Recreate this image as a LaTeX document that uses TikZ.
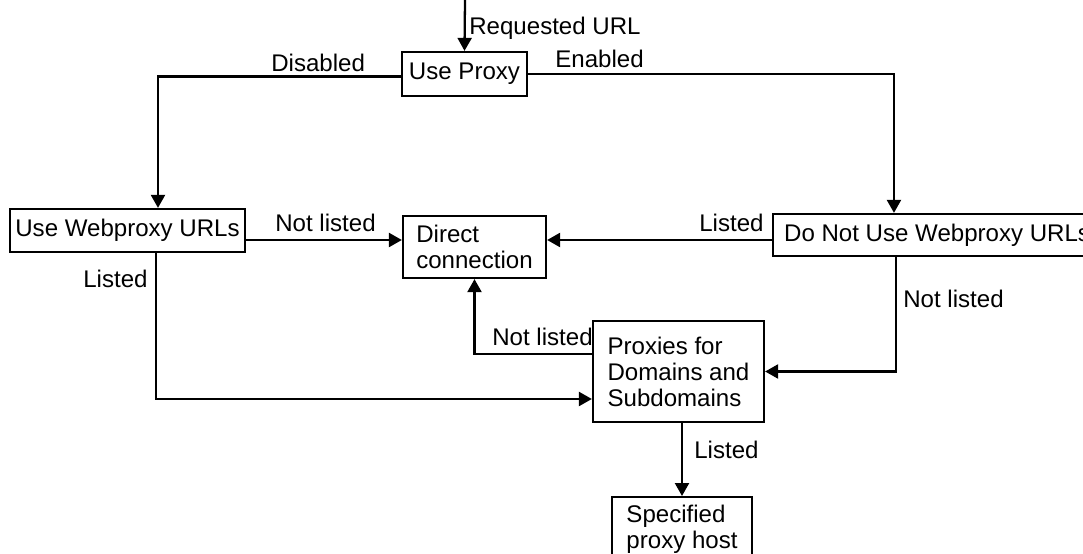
\documentclass[tikz,border=0pt]{standalone}
\usepackage{fontspec}
\setmainfont{Liberation Sans}
\usetikzlibrary{arrows.meta, positioning}

\tikzset{
  box/.style={draw=black, line width=1.3pt, inner sep=0pt, align=left},
  lbl/.style={anchor=base west, inner sep=0pt},
  flow/.style={->, line width=1.3pt}
}

\begin{document}
\begin{tikzpicture}[x=0.02cm, y=-0.02cm, >={Triangle[length=2.6mm, width=2.8mm]},
    font=\fontsize{13.7}{14.8}\selectfont]
    \useasboundingbox (0,0) rectangle (1083,554);
    \clip (0,0) rectangle (1083,554);

    % Boxes
    \node[box, minimum width=2.5cm, minimum height=0.88cm] (proxy) at (464.5,74) {Use Proxy};
    \node[box, minimum width=4.7cm, minimum height=0.86cm] (webp) at (127.5,230.5) {Use Webproxy URLs};
    \node[box, minimum width=2.86cm, minimum height=1.24cm] (direct) at (474.5,247) {Direct\\connection};
    \node[box, anchor=west, inner xsep=0.22cm, minimum height=0.84cm] (nouse) at (772,235) {Do Not Use Webproxy URLs};
    \node[box, minimum width=3.42cm, minimum height=2.02cm] (domains) at (678.5,371.5) {Proxies for\\Domains and\\Subdomains};
    \node[box, anchor=north, minimum width=2.8cm, inner ysep=0.16cm] (host) at (682,496) {Specified\\proxy host};

    % Incoming request
    \coordinate (start) at (465,0);
    \draw[flow] (start) -- (proxy.north);

    % Connectors
    \draw[flow] ([yshift=-0.05cm]proxy.west) -| ([xshift=0.61cm]webp.north);
    \draw[flow] (proxy.east) -| ([xshift=2.44cm]nouse.north west);

    \coordinate (wout) at ([yshift=-0.19cm]webp.east);
    \draw[flow] (wout) -- (wout -| direct.west);
    \coordinate (nout) at ([yshift=-0.1cm]nouse.west);
    \draw[flow] (nout) -- (nout -| direct.east);

    \draw[flow] ([xshift=0.57cm]webp.south) |- ([yshift=-0.55cm]domains.west);
    \draw[flow] ([xshift=2.48cm]nouse.south west) |- (domains.east);
    \draw[flow] ([yshift=0.35cm]domains.west) -| (direct.south);
    \draw[flow] (domains.south -| host.north) -- (host.north);

    % Labels
    \node[lbl] (lreq) at (469,35) {Requested URL};
    \node[lbl] (ldis) at (271,71.5) {Disabled};
    \node[lbl] (lena) at (555,68) {Enabled};
    \node[lbl] (lnl1) at (275,232) {Not listed};
    \node[lbl] (lli1) at (699,232) {Listed};
    \node[lbl] (lli2) at (83,287) {Listed};
    \node[lbl] (lnl2) at (903,307) {Not listed};
    \node[lbl] (lnl3) at (492,345) {Not listed};
    \node[lbl] (lli3) at (694,458) {Listed};
\end{tikzpicture}
\end{document}
